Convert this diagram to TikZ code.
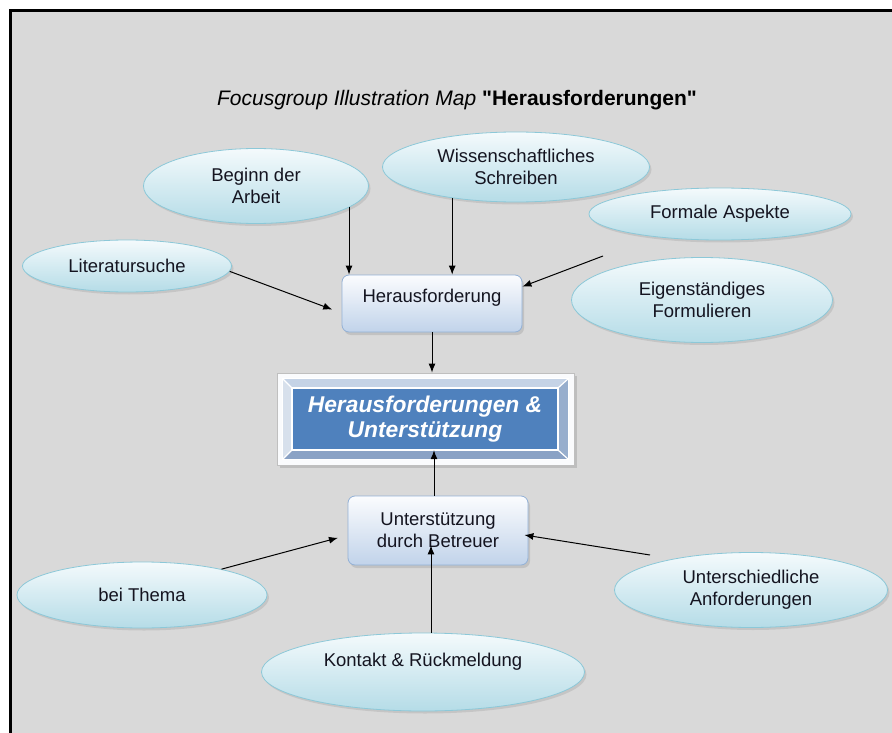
\documentclass[tikz,border=0pt]{standalone}
\usepackage{fontspec}
\setmainfont{Liberation Sans}[Ligatures=TeXOff]
\usetikzlibrary{shapes.geometric,arrows.meta,shadows,calc}
\definecolor{bg}{HTML}{D9D9D9}
\definecolor{elltop}{HTML}{F4FAFC}
\definecolor{ellbot}{HTML}{B5DCE7}
\definecolor{elldraw}{HTML}{8CC8D8}
\definecolor{boxtop}{HTML}{FBFCFE}
\definecolor{boxbot}{HTML}{C1D3EA}
\definecolor{boxdraw}{HTML}{93B1D6}
\definecolor{mainblue}{HTML}{4F81BD}
\definecolor{txt}{HTML}{141420}
\definecolor{bevtop}{HTML}{C5D3E6}
\definecolor{bevleft}{HTML}{D7E0EC}
\definecolor{bevright}{HTML}{97AECD}
\definecolor{bevbot}{HTML}{8AA2C5}
\tikzset{
  topic/.style={ellipse, inner sep=0pt, top color=elltop, bottom color=ellbot,
    draw=elldraw, line width=0.8pt, align=center, text=txt,
    font=\fontsize{18.5}{22}\selectfont,
    drop shadow={opacity=0.22, shadow xshift=2pt, shadow yshift=-2.5pt}},
  hubbox/.style={rectangle, rounded corners=7pt, inner sep=0pt, top color=boxtop,
    bottom color=boxbot, draw=boxdraw, line width=0.8pt, align=center, text=txt,
    font=\fontsize{18.5}{22}\selectfont,
    drop shadow={opacity=0.25, shadow xshift=2pt, shadow yshift=-3pt}},
  arr/.style={-{Latex[length=9pt,width=7pt]}, line width=1pt, black},
}
\begin{document}
\begin{tikzpicture}[x=1pt,y=-1pt]
\useasboundingbox (0,0) rectangle (892,733);
\fill[white] (0,0) rectangle (892,733);
\fill[bg] (10.5,10.5) rectangle (892,733);
\draw[black, line width=3pt] (10.5,733) -- (10.5,10.5) -- (892,10.5);

% title
\node[font=\fontsize{21}{25}\selectfont, text=black] (title) at (457,100)
  {\itshape Focusgroup Illustration Map \upshape\bfseries "Herausforderungen"};

% ellipses
\node[topic, minimum width=225pt, minimum height=75pt] (beginn) at (256,186) {Beginn der\\Arbeit};
\node[topic, minimum width=267pt, minimum height=70pt] (wissen) at (516,167) {Wissenschaftliches\\Schreiben};
\node[topic, minimum width=262pt, minimum height=52pt] (formal) at (720,214) {Formale Aspekte};
\node[topic, minimum width=209pt, minimum height=52pt] (lit) at (127,266) {Literatursuche};
\node[topic, minimum width=261pt, minimum height=85pt] (eigen) at (702,300) {Eigenständiges\\Formulieren};
\node[topic, minimum width=250pt, minimum height=66pt] (thema) at (142,595) {bei Thema};
\node[topic, minimum width=273pt, minimum height=75pt] (unter) at (751,590) {Unterschiedliche\\Anforderungen};
\node[topic, minimum width=323pt, minimum height=78pt, text height=13pt, text depth=25pt] (kontakt) at (423,672) {Kontakt \& Rückmeldung};

% boxes
\node[hubbox, minimum width=180pt, minimum height=57pt, text height=14pt, text depth=17pt] (hf) at (432,303.5) {Herausforderung};
\node[hubbox, minimum width=180pt, minimum height=69pt] (us) at (438,530.5) {Unterstützung\\durch Betreuer};

% central framed box
\node[rectangle, inner sep=0pt, minimum width=297pt, minimum height=92pt,
  fill=white!92!bevtop, draw=black!25, line width=0.8pt,
  drop shadow={opacity=0.3, shadow xshift=2.5pt, shadow yshift=-3pt}] (frame) at (425.5,419) {};
\node[rectangle, inner sep=0pt, minimum width=266pt, minimum height=62pt, fill=mainblue,
  align=center, text=white, font=\fontsize{22.8}{25}\selectfont\bfseries\itshape] (main) at (425,419)
  {Herausforderungen \&\\Unterstützung};
\coordinate (o1) at ($(frame.north west)+(6,6)$);
\coordinate (o2) at ($(frame.north east)+(-6,6)$);
\coordinate (o3) at ($(frame.south east)+(-6,-6)$);
\coordinate (o4) at ($(frame.south west)+(6,-6)$);
\fill[bevtop] (o1) -- (o2) -- (main.north east) -- (main.north west) -- cycle;
\fill[bevright] (o2) -- (o3) -- (main.south east) -- (main.north east) -- cycle;
\fill[bevbot] (o3) -- (o4) -- (main.south west) -- (main.south east) -- cycle;
\fill[bevleft] (o4) -- (o1) -- (main.north west) -- (main.south west) -- cycle;
\draw[white, line width=1.2pt] (o1) -- (main.north west) (o2) -- (main.north east)
  (o3) -- (main.south east) (o4) -- (main.south west);
\draw[white, line width=1.5pt] (o1) rectangle (o3);
\draw[white, line width=2pt] (main.north west) rectangle (main.south east);

% connectors
\coordinate (fe) at (603,256);
\coordinate (ua) at (650,555);
\draw[arr] (beginn.-13) -- (beginn.-13 |- hf.north);
\draw[arr] (wissen.-154) -- (wissen.-154 |- hf.north);
\draw[arr, shorten >=10pt] (lit.-3) -- (hf.186);
\draw[arr] (fe) -- ($(hf.north east)+(0,12)$);
\draw[arr] (hf.south) -- (hf.south |- frame.north);
\draw[arr] ([xshift=-4pt]us.north) -- ([xshift=-4pt]us.north |- main.south);
\draw[arr] ([xshift=8pt]kontakt.north) -- ($(us.south)+(-7,-20)$);
\draw[arr, shorten >=10pt] (thema.18) -- (us.183);
\draw[arr] (ua) -- ($(us.east)+(-4,4.5)$);
\end{tikzpicture}
\end{document}
